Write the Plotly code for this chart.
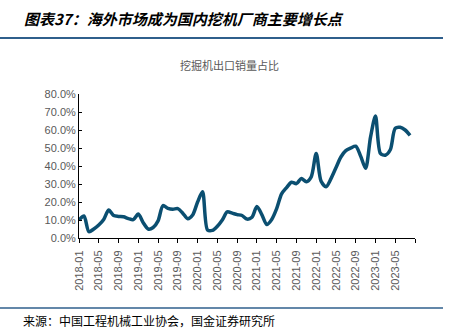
import plotly.graph_objects as go

# Excavator export share of total sales, monthly, 2018-01 .. 2023-08 (%)
years = [2018, 2019, 2020, 2021, 2022, 2023]
months = [f"{y}-{m:02d}" for y in years for m in range(1, 13)][:68]
export_share = [
    10.0, 12.2, 3.5, 5.0, 7.2, 10.3, 15.5, 12.5, 12.0, 11.8, 10.8, 10.2,
    13.3, 8.5, 5.0, 5.8, 9.5, 18.0, 16.5, 16.0, 16.3, 13.8, 10.7, 12.8,
    20.0, 25.7, 4.5, 4.2, 6.5, 10.0, 14.5, 13.8, 13.0, 12.5, 10.5, 11.5,
    17.5, 13.0, 7.5, 10.3, 16.3, 24.5, 28.0, 31.0, 30.2, 33.0, 31.3, 34.0,
    47.0, 31.5, 28.5, 33.0, 39.0, 45.0, 48.5, 50.0, 51.0, 45.5, 38.7, 56.0,
    67.8, 47.0, 46.0, 49.0, 61.0, 61.5, 60.0, 57.0,
]
tick_labels = months[::4]
y_ticks = [0, 10, 20, 30, 40, 50, 60, 70, 80]

W, H = 451, 330
ML, MR, MT, MB = 79, 36, 94, 92
PW, PH = W - ML - MR, H - MT - MB


def px(x):
    return (x - ML) / PW


def py(y):
    return (H - MB - y) / PH


CJK = "Noto Sans CJK SC"
LAT = "Liberation Sans, Arial"
GRAY = "#595959"

fig = go.Figure()
fig.add_trace(go.Scatter(
    x=list(range(len(export_share))),
    y=export_share,
    mode="lines",
    line=dict(color="#0B4F71", width=3.5, shape="spline", smoothing=0.8),
    hoverinfo="skip",
    showlegend=False,
))

fig.update_layout(
    width=W, height=H,
    margin=dict(l=ML, r=MR, t=MT, b=MB),
    paper_bgcolor="white", plot_bgcolor="white",
    xaxis=dict(
        range=[0, 68],
        tickvals=list(range(0, 69, 4)),
        ticktext=tick_labels + [""],
        tickangle=-90,
        ticks="outside", ticklen=4, tickcolor="black",
        ticklabelstandoff=3,
        showline=True, linecolor="black", linewidth=1,
        showgrid=False, zeroline=False,
        tickfont=dict(family=LAT, size=11, color=GRAY),
    ),
    yaxis=dict(
        range=[0, 80],
        tickvals=y_ticks,
        ticktext=[f"{v:.1f}%" for v in y_ticks],
        ticks="inside", ticklen=3, tickcolor="black",
        showline=True, linecolor="black", linewidth=1,
        showgrid=False, zeroline=False,
        tickfont=dict(family=LAT, size=11, color=GRAY),
    ),
)

fig.add_annotation(
    text="<b><i>图表37：海外市场成为国内挖机厂商主要增长点</i></b>",
    xref="paper", yref="paper", x=px(22), y=py(18),
    xanchor="left", yanchor="middle", showarrow=False,
    font=dict(family=CJK, size=15, color="black"),
)
fig.add_annotation(
    text="挖掘机出口销量占比",
    xref="paper", yref="paper", x=px(229), y=py(65),
    xanchor="center", yanchor="middle", showarrow=False,
    font=dict(family=CJK, size=11, color=GRAY),
)
fig.add_annotation(
    text="来源：中国工程机械工业协会，国金证券研究所",
    xref="paper", yref="paper", x=px(21), y=py(320),
    xanchor="left", yanchor="middle", showarrow=False,
    font=dict(family=CJK, size=12, color="black"),
)

# header and footer rules
for yy, lw in [(38, 2), (308, 1.5)]:
    fig.add_shape(
        type="line", xref="paper", yref="paper",
        x0=px(0), x1=px(443), y0=py(yy), y1=py(yy),
        line=dict(color="#2F5F8C", width=lw),
    )

fig.write_html("out.html")
